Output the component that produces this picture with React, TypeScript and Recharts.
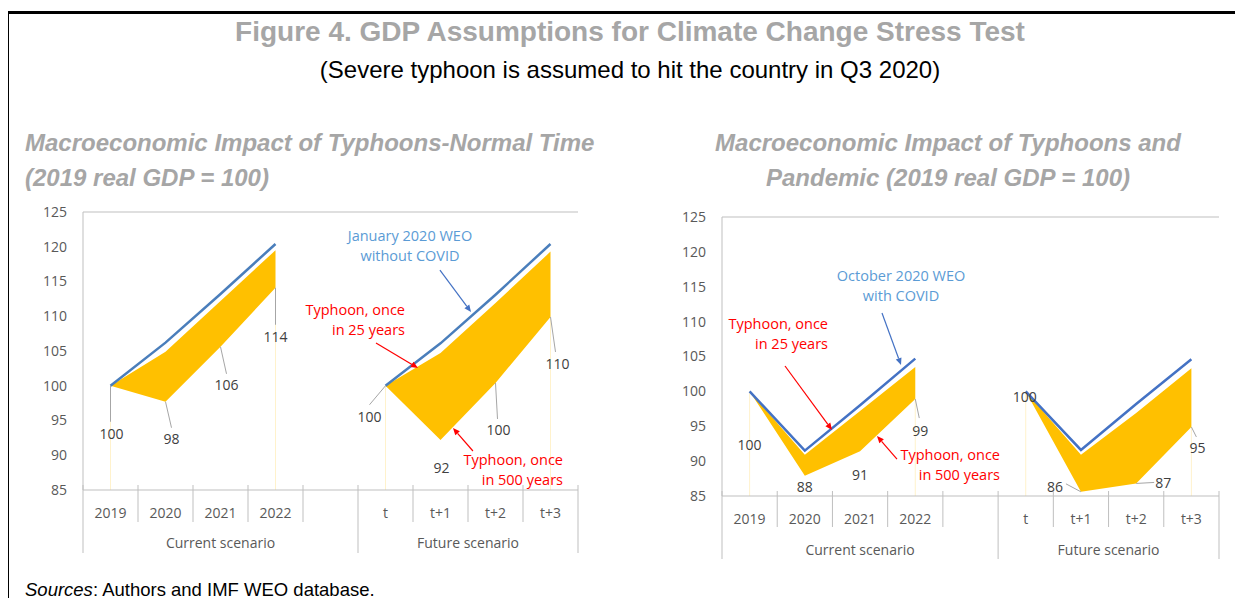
import React from 'react';
import { ComposedChart, Area, Line, XAxis, YAxis, ReferenceLine, ReferenceDot } from 'recharts';

// ---------- data ----------
const categories = ['2019', '2020', '2021', '2022', '', 't', 't+1', 't+2', 't+3'];
const groupLabels = ['Current scenario', 'Future scenario'];
const groupStarts = [0, 5];
const groupEnds = [4, 8];
const yTicks = [85, 90, 95, 100, 105, 110, 115, 120, 125];

// Left panel: normal time
const normalWeo = [100, 106.2, 113.2, 120.4, null, 100, 106.1, 113.1, 120.4];
const normal25 = [100, 104.9, 112.2, 119.5, null, 100, 104.7, 111.9, 119.3];
const normal500 = [100, 97.7, 105.6, 114.1, null, 100, 92.2, 100.4, 109.9];

// Right panel: pandemic
const pandemicWeo = [100, 91.5, 98.0, 104.7, null, 100, 91.6, 98.2, 104.6];
const pandemic25 = [100, 90.9, 97.2, 103.5, null, 100, 90.9, 96.9, 103.3];
const pandemic500 = [100, 87.9, 91.4, 98.9, null, 100, 85.6, 86.8, 94.9];

// ---------- styles ----------
const FONT = "'Open Sans', 'Noto Sans', sans-serif";
const TITLE_FONT = "'Liberation Sans', Arial, sans-serif";
const BORDER = '#bfbfbf';
const TICK = '#595959';
const LABEL = '#404040';
const GOLD = '#ffc000';
const RED = '#ff0000';
const BLUE_TEXT = '#5b9bd5';

type Row = { cat: string; base: number | null; low: number | null; range: [number, number] | null };

const buildRows = (weo: (number | null)[], hi: (number | null)[], lo: (number | null)[]): Row[] =>
  categories.map((c, i) => ({
    cat: c,
    base: weo[i],
    low: lo[i],
    range: lo[i] == null || hi[i] == null ? null : [lo[i] as number, hi[i] as number],
  }));

// label placement relative to the point: [dx, dy, leaderDx?, leaderDy?]
type LabelPos = number[] | null;
const normalLabelPos: LabelPos[] = [
  [1, 48, 0, 36], [6, 37, 6, 26], [6, 38, 6, 27], [0, 49, 0, 37], null,
  [-16, 31, -16, 19], [1, 28], [3, 47, 2, 36], [7, 47, 5, 35],
];
const pandemicLabelPos: LabelPos[] = [
  [0, 54], [0, 11], [0, 24], [5, 32, 4, 19], null,
  [-1, 6], [-26, -5, -15, -8], [27, 0, 18, -1], [6, 21, 5, 10],
];

type Note = { x: number; y: number; lines: string[]; color: string; anchor: 'start' | 'middle' | 'end' };
type Arrow = { x1: number; y1: number; x2: number; y2: number; color: string };

const normalNotes: Note[] = [
  { x: 5.445, y: 121.55, lines: ['January 2020 WEO', 'without COVID'], color: BLUE_TEXT, anchor: 'middle' },
  { x: 5.354, y: 110.9, lines: ['Typhoon, once', 'in 25 years'], color: RED, anchor: 'end' },
  { x: 8.227, y: 89.32, lines: ['Typhoon, once', 'in 500 years'], color: RED, anchor: 'end' },
];
const normalArrows: Arrow[] = [
  { x1: 5.99, y1: 116.65, x2: 6.555, y2: 110.61, color: '#4472c4' },
  { x1: 4.827, y1: 106.15, x2: 5.591, y2: 102.55, color: RED },
  { x1: 6.59, y1: 90.61, x2: 6.227, y2: 93.92, color: RED },
];
const pandemicNotes: Note[] = [
  { x: 2.742, y: 116.54, lines: ['October 2020 WEO', 'with COVID'], color: BLUE_TEXT, anchor: 'middle' },
  { x: 1.42, y: 109.66, lines: ['Typhoon, once', 'in 25 years'], color: RED, anchor: 'end' },
  { x: 4.534, y: 90.88, lines: ['Typhoon, once', 'in 500 years'], color: RED, anchor: 'end' },
];
const pandemicArrows: Arrow[] = [
  { x1: 2.397, y1: 111.24, x2: 2.742, y2: 103.78, color: '#4472c4' },
  { x1: 0.641, y1: 103.64, x2: 1.492, y2: 94.46, color: RED },
  { x1: 2.669, y1: 90.3, x2: 2.307, y2: 93.6, color: RED },
];

const arrowShape = (color: string) => (p: any) => {
  const { x1, y1, x2, y2 } = p;
  if ([x1, y1, x2, y2].some((v) => v == null || Number.isNaN(v))) return <g />;
  const ang = Math.atan2(y2 - y1, x2 - x1);
  const L = 7;
  const W = 3;
  const bx = x2 - L * Math.cos(ang);
  const by = y2 - L * Math.sin(ang);
  const px = -Math.sin(ang) * W;
  const py = Math.cos(ang) * W;
  return (
    <g>
      <line x1={x1} y1={y1} x2={bx} y2={by} stroke={color} strokeWidth={1.2} />
      <polygon points={`${x2},${y2} ${bx + px},${by + py} ${bx - px},${by - py}`} fill={color} />
    </g>
  );
};

const noteShape = (n: Note) => (p: any) => {
  const { cx, cy } = p;
  if (cx == null || cy == null) return <g />;
  return (
    <text x={cx} y={cy} textAnchor={n.anchor} fill={n.color} fontSize={14.5} fontFamily={FONT}>
      {n.lines.map((l, i) => (
        <tspan key={i} x={cx} dy={i === 0 ? '0.35em' : 20}>
          {l}
        </tspan>
      ))}
    </text>
  );
};

const makeCatTick = (bw: number, longLen: number, shortLen: number, labelDy: number, groupDy: number) => (props: any) => {
  const { x, y, payload, index } = props;
  const left = x - bw / 2;
  const gi = groupStarts.indexOf(index);
  const isLast = index === categories.length - 1;
  return (
    <g>
      <line x1={left} x2={left} y1={y - 5} y2={y + (gi >= 0 ? longLen : shortLen)} stroke={BORDER} />
      {isLast && <line x1={x + bw / 2} x2={x + bw / 2} y1={y - 5} y2={y + longLen} stroke={BORDER} />}
      <text x={x} y={y + labelDy} dy="0.35em" textAnchor="middle" fill={TICK} fontSize={14} fontFamily={FONT}>
        {payload.value}
      </text>
      {gi >= 0 && (
        <text
          x={left + ((groupEnds[gi] - groupStarts[gi] + 1) * bw) / 2}
          y={y + groupDy}
          dy="0.35em"
          textAnchor="middle"
          fill={TICK}
          fontSize={14}
          fontFamily={FONT}
        >
          {groupLabels[gi]}
        </text>
      )}
    </g>
  );
};

const makeLabelDot = (pos: LabelPos[]) => (p: any) => {
  const { cx, cy, index, payload } = p;
  const key = `lbl-${index}`;
  if (cx == null || cy == null || payload == null || payload.low == null || !pos[index]) return <g key={key} />;
  const [dx, dy, lx, ly] = pos[index] as number[];
  return (
    <g key={key}>
      {lx !== undefined && <line x1={cx} y1={cy} x2={cx + lx} y2={cy + ly} stroke="#a6a6a6" strokeWidth={1} />}
      <text x={cx + dx} y={cy + dy} dy="0.35em" textAnchor="middle" fill={LABEL} fontSize={14} fontFamily={FONT}>
        {Math.round(payload.low)}
      </text>
    </g>
  );
};

type PanelProps = {
  left: number;
  top: number;
  width: number;
  height: number;
  margin: { top: number; right: number; bottom: number; left: number };
  rows: Row[];
  lowValues: (number | null)[];
  lineColor: string;
  labelPos: LabelPos[];
  notes: Note[];
  arrows: Arrow[];
  tickLong: number;
  tickShort: number;
  labelDy: number;
  groupDy: number;
};

const Panel = (p: PanelProps) => {
  const yAxisW = 48;
  const plotW = p.width - p.margin.left - p.margin.right - yAxisW;
  const bw = plotW / categories.length;
  const edges = [0, 3, 5, 8];
  return (
    <div style={{ position: 'absolute', left: p.left, top: p.top }}>
      <ComposedChart width={p.width} height={p.height} data={p.rows} margin={p.margin}>
        <XAxis
          xAxisId="c"
          dataKey="cat"
          type="category"
          scale="band"
          interval={0}
          tickLine={false}
          tickSize={0}
          tickMargin={0}
          height={63}
          axisLine={{ stroke: BORDER }}
          tick={makeCatTick(bw, p.tickLong, p.tickShort, p.labelDy, p.groupDy)}
        />
        <XAxis
          xAxisId="n"
          type="number"
          domain={[0, categories.length - 1]}
          padding={{ left: bw / 2, right: bw / 2 }}
          allowDataOverflow
          hide
        />
        <YAxis
          domain={[85, 125]}
          ticks={yTicks}
          interval={0}
          allowDataOverflow
          tickLine={false}
          tickSize={0}
          tickMargin={16}
          width={yAxisW}
          axisLine={{ stroke: BORDER }}
          tick={{ fontSize: 14, fill: TICK, fontFamily: FONT }}
        />
        <YAxis
          yAxisId="r"
          orientation="right"
          domain={[85, 125]}
          width={0}
          tick={false}
          tickLine={false}
          axisLine={{ stroke: BORDER }}
        />
        <ReferenceLine xAxisId="c" y={125} stroke={BORDER} />
        {edges.map((i) => (
          <ReferenceLine
            key={`edge-${i}`}
            xAxisId="n"
            segment={[
              { x: i, y: 85 },
              { x: i, y: p.lowValues[i] as number },
            ]}
            stroke="#fff2cc"
            strokeWidth={1}
          />
        ))}
        <Area
          xAxisId="c"
          dataKey="range"
          fill={GOLD}
          fillOpacity={1}
          stroke="none"
          isAnimationActive={false}
          activeDot={false}
        />
        <Line
          xAxisId="c"
          dataKey="base"
          stroke={p.lineColor}
          strokeWidth={2.5}
          dot={false}
          activeDot={false}
          isAnimationActive={false}
        />
        <Line
          xAxisId="c"
          dataKey="low"
          stroke="none"
          dot={makeLabelDot(p.labelPos)}
          activeDot={false}
          isAnimationActive={false}
        />
        {p.arrows.map((a, i) => (
          <ReferenceLine
            key={`arr-${i}`}
            xAxisId="n"
            ifOverflow="visible"
            segment={[
              { x: a.x1, y: a.y1 },
              { x: a.x2, y: a.y2 },
            ]}
            shape={arrowShape(a.color)}
          />
        ))}
        {p.notes.map((n, i) => (
          <ReferenceDot
            key={`note-${i}`}
            xAxisId="n"
            ifOverflow="visible"
            x={n.x}
            y={n.y}
            r={0}
            shape={noteShape(n)}
          />
        ))}
      </ComposedChart>
    </div>
  );
};

export default function App() {
  return (
    <div style={{ position: 'relative', width: 1235, height: 590 }}>
      <div
        style={{
          position: 'absolute',
          left: -2,
          top: 3,
          width: 1234,
          height: 600,
          borderTop: '3px solid #000',
          borderLeft: '3px solid #000',
        }}
      />
      <svg
        width={1235}
        height={598}
        style={{ position: 'absolute', left: -8, top: -8, overflow: 'visible' }}
      >
        <text x={630} y={31} dy="0.35em" textAnchor="middle" fill="#a6a6a6" fontWeight="bold" fontSize={28} fontFamily={TITLE_FONT}>
          Figure 4. GDP Assumptions for Climate Change Stress Test
        </text>
        <text x={630} y={70} dy="0.35em" textAnchor="middle" fill="#000" fontSize={24} fontFamily={TITLE_FONT}>
          (Severe typhoon is assumed to hit the country in Q3 2020)
        </text>
        <text x={25} y={143} dy="0.35em" fill="#a6a6a6" fontWeight="bold" fontStyle="italic" fontSize={24} fontFamily={TITLE_FONT}>
          Macroeconomic Impact of Typhoons-Normal Time
        </text>
        <text x={25} y={178} dy="0.35em" fill="#a6a6a6" fontWeight="bold" fontStyle="italic" fontSize={24} fontFamily={TITLE_FONT}>
          (2019 real GDP = 100)
        </text>
        <text x={948} y={143} dy="0.35em" textAnchor="middle" fill="#a6a6a6" fontWeight="bold" fontStyle="italic" fontSize={24} fontFamily={TITLE_FONT}>
          Macroeconomic Impact of Typhoons and
        </text>
        <text x={948} y={178} dy="0.35em" textAnchor="middle" fill="#a6a6a6" fontWeight="bold" fontStyle="italic" fontSize={24} fontFamily={TITLE_FONT}>
          Pandemic (2019 real GDP = 100)
        </text>
        <text x={25} y={590} dy="0.35em" fill="#000" fontSize={18.5} fontFamily={TITLE_FONT}>
          <tspan fontStyle="italic">Sources</tspan>
          <tspan>: Authors and IMF WEO database.</tspan>
        </text>
      </svg>
      <div style={{ position: 'absolute', left: -8, top: -8 }}>
        <Panel
          left={20}
          top={200}
          width={570}
          height={370}
          margin={{ top: 12, right: 12, bottom: 17, left: 15 }}
          rows={buildRows(normalWeo, normal25, normal500)}
          lowValues={normal500}
          lineColor="#4a7ebb"
          labelPos={normalLabelPos}
          notes={normalNotes}
          arrows={normalArrows}
          tickLong={63}
          tickShort={32}
          labelDy={23}
          groupDy={53}
        />
        <Panel
          left={660}
          top={205}
          width={570}
          height={370}
          margin={{ top: 12, right: 11, bottom: 16, left: 14 }}
          rows={buildRows(pandemicWeo, pandemic25, pandemic500)}
          lowValues={pandemic500}
          lineColor="#4472c4"
          labelPos={pandemicLabelPos}
          notes={pandemicNotes}
          arrows={pandemicArrows}
          tickLong={63}
          tickShort={31}
          labelDy={23}
          groupDy={54}
        />
      </div>
    </div>
  );
}
